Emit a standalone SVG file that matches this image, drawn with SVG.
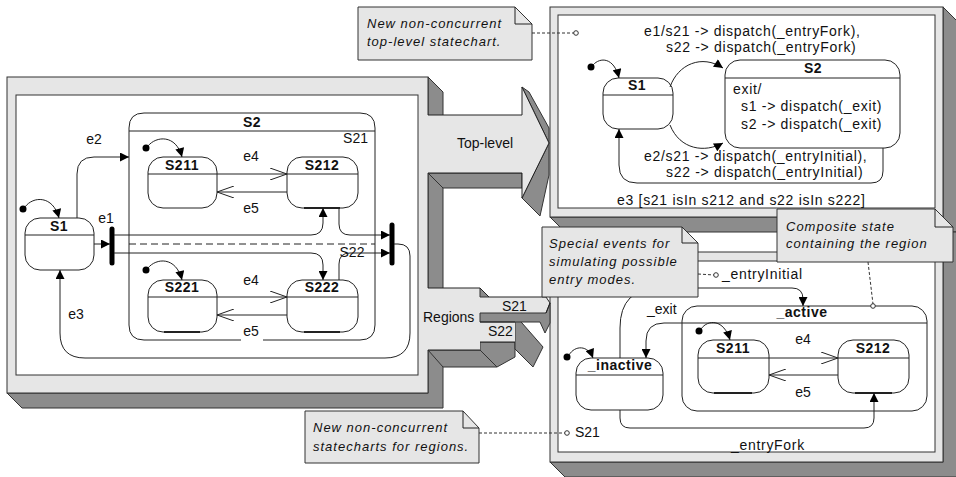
<svg xmlns="http://www.w3.org/2000/svg" width="956" height="477" viewBox="0 0 956 477">
<defs>
<style>
.t{font-family:"Liberation Sans",Arial,sans-serif;font-size:14px;fill:#111}
.b{font-weight:bold;letter-spacing:0.5px}
.l{letter-spacing:0.7px}
.n{font-style:italic;font-size:13px;letter-spacing:1px}
.lt{fill:#e6e6e6;stroke:#333;stroke-width:1}
.lf{fill:#e6e6e6;stroke:none}
.dk{fill:#8c8c8c;stroke:#333;stroke-width:1}
.wh{fill:#fff;stroke:#333;stroke-width:1}
.st{fill:#fff;stroke:#222;stroke-width:1}
.ln{fill:none;stroke:#222;stroke-width:1}
.ds{fill:none;stroke:#333;stroke-width:1;stroke-dasharray:3,2}
.dash{fill:none;stroke:#222;stroke-width:1;stroke-dasharray:7,4}
.bar{stroke:#000;stroke-width:5;stroke-linecap:round}
.dot{fill:#000}
.c{fill:#fff;stroke:#333;stroke-width:1}
.thk{stroke:#222;stroke-width:2.2}
</style>
<marker id="a" viewBox="0 0 10 10" refX="10" refY="5" markerWidth="10" markerHeight="9" markerUnits="userSpaceOnUse" orient="auto"><path d="M0,0L10,5L0,10z" fill="#000"/></marker>
<marker id="o" viewBox="0 0 17 12" refX="17" refY="6" markerWidth="17" markerHeight="12" markerUnits="userSpaceOnUse" orient="auto"><path d="M0,0L17,6L0,12" fill="none" stroke="#222" stroke-width="1"/></marker>
</defs>

<g id="panels">
<polygon class="dk" points="428,77 443,92 443,408 22,408 7,393 428,393"/>
<rect class="lt" x="7" y="77" width="421" height="316"/>
<rect class="wh" x="16" y="95" width="402" height="280"/>
<polygon class="dk" points="943,7 958,22 958,232 565,232 550,217 943,217"/>
<rect class="lt" x="550" y="7" width="393" height="210"/>
<rect class="wh" x="558" y="15" width="377" height="193"/>
<polygon class="dk" points="943,232 958,232 958,477 565,477 550,462 943,462"/>
<rect class="lt" x="550" y="252" width="393" height="210"/>
<rect class="wh" x="558" y="261" width="377" height="191"/>
</g>

<g id="arrows">
<polygon class="dk" points="428,173 522,173 522,188 443,188"/>
<polygon class="dk" points="522,87 529,92 549,128 549,143"/>
<polygon class="dk" points="549,143 549,175 540,216 522,198"/>
<polygon class="lf" points="426,115 522,115 522,87 549,143 522,198 522,173 426,173"/>
<polyline class="ln" points="428,115 522,115 522,87 549,143 522,198 522,173 428,173"/>
<text class="t" x="457" y="148">Top-level</text>

<polygon class="dk" points="428,350 480,350 497,367 443,367"/>
<polygon class="dk" points="480,342 515,342 515,357 497,367 480,350"/>
<polygon class="dk" points="515,315 543,347 533,367 515,349"/>
<polygon class="lf" points="426,288 480,288 489,297 546,297 550,303 546,313 480,313 480,322 515,322 515,342 480,342 480,350 426,350"/>
<polygon class="dk" points="480,288 489,297 480,297"/>
<polygon class="dk" points="480,313 546,313 550,303 550,323 545,333 540,322 480,322"/>
<polyline class="ln" points="428,288 480,288 489,297 546,297 550,303 546,313"/>
<polyline class="ln" points="428,350 480,350"/>
<polyline class="ln" points="480,322 515,322"/>
<polyline class="ln" points="480,342 515,342"/>
<text class="t" x="423" y="322">Regions</text>
<text class="t" x="502" y="311">S21</text>
<text class="t" x="488" y="336">S22</text>
</g>

<g id="L_S2">
<path class="ln" d="M263,340 L360,340 Q375,340 375,325 L375,128 Q375,113 360,113 L144,113 Q129,113 129,128 L129,325 Q129,340 144,340 L241,340"/>
<line class="ln" x1="129" y1="131" x2="375" y2="131"/>
<line class="dash" x1="129" y1="244" x2="375" y2="244"/>
<text class="t b" x="252" y="127" text-anchor="middle">S2</text>
<text class="t" x="368" y="143" text-anchor="end">S21</text>
<text class="t" x="352" y="257" text-anchor="middle">S22</text>
</g>
<g id="L_S1">
<rect class="st" x="25" y="218" width="69" height="52" rx="15"/>
<line class="ln" x1="25" y1="235" x2="94" y2="235"/>
<text class="t b" x="59" y="231" text-anchor="middle">S1</text>
</g>
<g id="L_S211">
<rect class="st" x="148" y="157" width="69" height="51" rx="15"/>
<line class="ln" x1="148" y1="174" x2="217" y2="174"/>
<text class="t b" x="182" y="170" text-anchor="middle">S211</text>
</g>
<g id="L_S212">
<rect class="st" x="287" y="157" width="71" height="51" rx="15"/>
<line class="ln" x1="287" y1="174" x2="358" y2="174"/>
<line class="thk" x1="304" y1="208" x2="340" y2="208"/>
<text class="t b" x="322" y="170" text-anchor="middle">S212</text>
</g>
<g id="L_S221">
<rect class="st" x="148" y="280" width="69" height="52" rx="15"/>
<line class="ln" x1="148" y1="297" x2="217" y2="297"/>
<line class="thk" x1="164" y1="332" x2="200" y2="332"/>
<text class="t b" x="182" y="292" text-anchor="middle">S221</text>
</g>
<g id="L_S222">
<rect class="st" x="287" y="280" width="71" height="52" rx="15"/>
<line class="ln" x1="287" y1="297" x2="358" y2="297"/>
<line class="thk" x1="304" y1="332" x2="340" y2="332"/>
<text class="t b" x="322" y="292" text-anchor="middle">S222</text>
</g>
<g id="L_fork"><line class="bar" x1="112" y1="229" x2="112" y2="263"/></g>
<g id="L_join"><line class="bar" x1="392" y1="225" x2="392" y2="263"/></g>
<g id="L_init">
<circle class="dot" cx="23" cy="209" r="3.5"/>
<circle class="dot" cx="146" cy="148" r="3.5"/>
<circle class="dot" cx="146" cy="270" r="3.5"/>
</g>

<g id="R_S1">
<rect class="st" x="603" y="78" width="70" height="51" rx="15"/>
<line class="ln" x1="603" y1="95" x2="673" y2="95"/>
<text class="t b" x="637" y="90" text-anchor="middle">S1</text>
<circle class="dot" cx="591" cy="67" r="3.5"/>
</g>
<g id="R_S2">
<rect class="st" x="725" y="60" width="175" height="88" rx="15"/>
<line class="ln" x1="725" y1="78" x2="900" y2="78"/>
<text class="t b" x="813" y="73" text-anchor="middle">S2</text>
<text class="t l" x="733" y="94">exit/</text>
<text class="t l" x="741" y="111">s1 -&gt; dispatch(_exit)</text>
<text class="t l" x="741" y="129">s2 -&gt; dispatch(_exit)</text>
</g>

<g id="B_active">
<rect class="st" x="682" y="306" width="245" height="105" rx="15"/>
<line class="ln" x1="682" y1="323" x2="927" y2="323"/>
<text class="t b" x="802" y="317" text-anchor="middle">_active</text>
</g>
<g id="B_inactive">
<rect class="st" x="576" y="358" width="87" height="52" rx="15"/>
<line class="ln" x1="576" y1="375" x2="663" y2="375"/>
<text class="t b" x="620" y="370" text-anchor="middle">_inactive</text>
<circle class="dot" cx="567" cy="357" r="3.5"/>
</g>
<g id="B_S211">
<rect class="st" x="698" y="340" width="71" height="53" rx="15"/>
<line class="ln" x1="698" y1="358" x2="769" y2="358"/>
<line class="thk" x1="714" y1="393" x2="752" y2="393"/>
<text class="t b" x="733" y="353" text-anchor="middle">S211</text>
<circle class="dot" cx="699" cy="331" r="3.5"/>
</g>
<g id="B_S212">
<rect class="st" x="838" y="340" width="71" height="53" rx="15"/>
<line class="ln" x1="838" y1="358" x2="909" y2="358"/>
<line class="thk" x1="855" y1="393" x2="892" y2="393"/>
<text class="t b" x="873" y="353" text-anchor="middle">S212</text>
</g>

<g id="connectors">
<path class="ln" d="M25,207 C33,196 53,195 59,218" marker-end="url(#a)"/>
<path class="ln" d="M148,146 C156,136 176,134 182,157" marker-end="url(#a)"/>
<path class="ln" d="M148,268 C156,258 176,256 182,280" marker-end="url(#a)"/>
<path class="ln" d="M77,218 L77,174 Q77,157 94,157 L129,157" marker-end="url(#a)"/>
<text class="t" x="94" y="144" text-anchor="middle">e2</text>
<path class="ln" d="M94,244 L110,244" marker-end="url(#a)"/>
<text class="t" x="106" y="223" text-anchor="middle">e1</text>
<path class="ln" d="M114,235 L311,235 Q323,235 323,223 L323,208" marker-end="url(#a)"/>
<path class="ln" d="M114,253 L311,253 Q323,253 323,265 L323,280" marker-end="url(#a)"/>
<path class="ln" d="M217,174 L287,174" marker-end="url(#o)"/>
<path class="ln" d="M287,192 L217,192" marker-end="url(#o)"/>
<path class="ln" d="M217,297 L287,297" marker-end="url(#o)"/>
<path class="ln" d="M287,315 L217,315" marker-end="url(#o)"/>
<text class="t" x="251" y="161" text-anchor="middle">e4</text>
<text class="t" x="251" y="213" text-anchor="middle">e5</text>
<text class="t" x="251" y="285" text-anchor="middle">e4</text>
<text class="t" x="251" y="336" text-anchor="middle">e5</text>
<path class="ln" d="M339,208 L339,224 Q339,235 350,235 L390,235" marker-end="url(#a)"/>
<path class="ln" d="M339,280 L339,264 Q339,253 350,253 L390,253" marker-end="url(#a)"/>
<path class="ln" d="M394,244 L398,244 Q410,244 410,256 L410,333 Q410,358 385,358 L85,358 Q60,358 60,333 L60,270" marker-end="url(#a)"/>
<text class="t" x="76" y="319" text-anchor="middle">e3</text>

<path class="ln" d="M593,65 C600,57 614,57 619,78" marker-end="url(#a)"/>
<path class="ln" d="M670,87 C678,64 702,54 723,68" marker-end="url(#a)"/>
<text class="t l" x="644" y="36">e1/s21 -&gt; dispatch(_entryFork),</text>
<text class="t l" x="666" y="52">s22 -&gt; dispatch(_entryFork)</text>
<path class="ln" d="M670,125 C680,150 705,153 723,143" marker-end="url(#a)"/>
<path class="ln" d="M883,148 L883,171 Q883,183 871,183 L637,183 Q619,183 619,165 L619,129" marker-end="url(#a)"/>
<text class="t l" x="644" y="161">e2/s21 -&gt; dispatch(_entryInitial),</text>
<text class="t l" x="666" y="177">s22 -&gt; dispatch(_entryInitial)</text>
<text class="t l" x="617" y="205">e3 [s21 isIn s212 and s22 isIn s222]</text>

<path class="ln" d="M569,355 C575,345 588,345 593,358" marker-end="url(#a)"/>
<path class="ln" d="M701,329 C708,319 724,319 730,340" marker-end="url(#a)"/>
<path class="ln" d="M682,323 L664,323 Q646,323 646,341 L646,358" marker-end="url(#a)"/>
<text class="t" x="647" y="314">_exit</text>
<path class="ln" d="M620,358 L620,328 Q620,288 660,288 L792,288 Q803,288 803,299 L803,306" marker-end="url(#a)"/>
<text class="t l" x="722" y="279">_entryInitial</text>
<path class="ln" d="M620,410 L620,418 Q620,428 630,428 L864,428 Q874,428 874,418 L874,393" marker-end="url(#a)"/>
<text class="t l" x="731" y="450">_entryFork</text>
<path class="ln" d="M769,358 L838,358" marker-end="url(#o)"/>
<path class="ln" d="M838,375 L769,375" marker-end="url(#o)"/>
<text class="t" x="803" y="344" text-anchor="middle">e4</text>
<text class="t" x="803" y="397" text-anchor="middle">e5</text>
<text class="t" x="575" y="437">S21</text>

<line class="ds" x1="532" y1="33" x2="574" y2="33"/>
<circle class="c" cx="576" cy="33" r="2.3"/>
<line class="ds" x1="698" y1="274" x2="714" y2="275"/>
<circle class="c" cx="716" cy="275" r="2.3"/>
<line class="ds" x1="868" y1="262" x2="873" y2="304"/>
<circle class="c" cx="873" cy="306" r="2.3"/>
<line class="ds" x1="479" y1="433" x2="565" y2="433"/>
<circle class="c" cx="567" cy="433" r="2.3"/>
</g>

<g id="note_toplevel">
<path class="lt" d="M358,7 L515,7 L532,24 L532,60 L358,60 Z"/>
<path class="ln" d="M515,7 L515,24 L532,24"/>
<text class="t n" x="367" y="28">New non-concurrent</text>
<text class="t n" x="367" y="46">top-level statechart.</text>
</g>
<g id="note_special">
<path class="lt" d="M542,227 L682,227 L698,243 L698,297 L542,297 Z"/>
<path class="ln" d="M682,227 L682,243 L698,243"/>
<text class="t n" x="549" y="248">Special events for</text>
<text class="t n" x="549" y="266">simulating possible</text>
<text class="t n" x="549" y="284">entry modes.</text>
</g>
<g id="note_composite">
<path class="lt" d="M777,209 L935,209 L953,227 L953,262 L777,262 Z"/>
<path class="ln" d="M935,209 L935,227 L953,227" stroke-width="2"/>
<text class="t n" x="786" y="231">Composite state</text>
<text class="t n" x="786" y="248">containing the region</text>
</g>
<g id="note_regions">
<path class="lt" d="M305,411 L463,411 L479,428 L479,463 L305,463 Z"/>
<path class="ln" d="M463,411 L463,428 L479,428"/>
<text class="t n" x="313" y="432">New non-concurrent</text>
<text class="t n" x="313" y="451">statecharts for regions.</text>
</g>
</svg>
